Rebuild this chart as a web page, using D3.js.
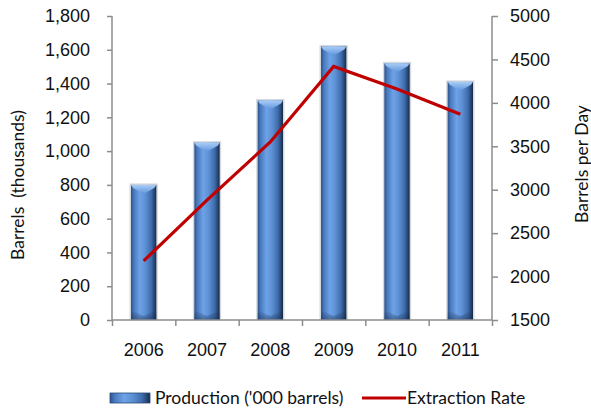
<!DOCTYPE html>
<html>
<head>
<meta charset="utf-8">
<script src="https://cdn.jsdelivr.net/npm/d3@7"></script>
<style>
  html, body { margin: 0; padding: 0; background: #fff; }
  svg { display: block; font-family: Lato, "Open Sans", sans-serif; }
</style>
</head>
<body>
<svg id="chart" width="591" height="410"></svg>
<script>
// ---- data ----
const years = ["2006", "2007", "2008", "2009", "2010", "2011"];
const production = [800, 1050, 1300, 1620, 1520, 1410];
const extractionRate = [2180, 2880, 3550, 4420, 4160, 3870];
const leftTicks = [0, 200, 400, 600, 800, 1000, 1200, 1400, 1600, 1800];
const rightTicks = [1500, 2000, 2500, 3000, 3500, 4000, 4500, 5000];
const seriesNames = ["Production ('000 barrels)", "Extraction Rate"];
const axisTitles = ["Barrels  (thousands)", "Barrels per Day"];

// ---- layout ----
const svg = d3.select("#chart");
const plot = { left: 112, right: 492, top: 16, bottom: 320 };
const axisColor = "#8c8c8c";
const textColor = "#111";

const x = d3.scaleBand().domain(years).range([plot.left, plot.right])
  .paddingInner(0.6).paddingOuter(0.3);
const yL = d3.scaleLinear().domain([0, 1800]).range([plot.bottom, plot.top]);
const yR = d3.scaleLinear().domain([1500, 5000]).range([plot.bottom, plot.top]);

// ---- gradients ----
const defs = svg.append("defs");
const gH = defs.append("linearGradient").attr("id", "barH").attr("x1", 0).attr("x2", 1).attr("y1", 0).attr("y2", 0);
[[0, "#2c538c"], [0.12, "#4a7bc0"], [0.35, "#6ea1e5"], [0.55, "#5e92d7"], [0.8, "#3f6cab"], [0.93, "#24436f"], [1, "#17293f"]]
  .forEach(([o, c]) => gH.append("stop").attr("offset", o).attr("stop-color", c));
const gCap = defs.append("linearGradient").attr("id", "barCap").attr("x1", 0).attr("x2", 0).attr("y1", 0).attr("y2", 1);
[[0, "#a9cdf6"], [1, "#5f95dc"]].forEach(([o, c]) => gCap.append("stop").attr("offset", o).attr("stop-color", c));
const gBot = defs.append("linearGradient").attr("id", "barBot").attr("x1", 0).attr("x2", 0).attr("y1", 0).attr("y2", 1);
[[0, "rgba(20,40,70,0)"], [1, "rgba(20,40,70,0.45)"]].forEach(([o, c]) => gBot.append("stop").attr("offset", o).attr("stop-color", c));

// ---- bars ----
const bw = x.bandwidth();
const bars = svg.append("g").selectAll("g").data(years).join("g");
bars.append("rect")
  .attr("x", d => x(d) - 1.5).attr("y", (d, i) => yL(production[i]) - 1.5)
  .attr("width", bw + 3).attr("height", (d, i) => plot.bottom - yL(production[i]) + 1.5)
  .attr("fill", "#d6d9de");
bars.append("rect")
  .attr("x", d => x(d)).attr("y", (d, i) => yL(production[i]))
  .attr("width", bw).attr("height", (d, i) => plot.bottom - yL(production[i]))
  .attr("fill", "url(#barH)");
// top bevel (chevron)
bars.append("path")
  .attr("d", (d, i) => {
    const x0 = x(d), x1 = x(d) + bw, y0 = yL(production[i]), xm = x(d) + bw / 2;
    return `M${x0},${y0} L${x1},${y0} L${x1 - 2},${y0 + 3} L${xm},${y0 + 9} L${x0 + 2},${y0 + 3} Z`;
  })
  .attr("fill", "url(#barCap)");
// bottom shading
bars.append("path")
  .attr("d", d => {
    const x0 = x(d), x1 = x(d) + bw, xm = x(d) + bw / 2, yb = plot.bottom;
    return `M${x0},${yb - 10} L${xm},${yb - 4} L${x1},${yb - 10} L${x1},${yb} L${x0},${yb} Z`;
  })
  .attr("fill", "url(#barBot)");

// ---- axes ----
const axL = svg.append("g").attr("transform", `translate(${plot.left},0)`)
  .call(d3.axisLeft(yL).tickValues(leftTicks).tickSize(5).tickPadding(17).tickFormat(d3.format(",")));
const axR = svg.append("g").attr("transform", `translate(${plot.right},0)`)
  .call(d3.axisRight(yR).tickValues(rightTicks).tickSize(6).tickPadding(12).tickFormat(d3.format("d")));
// category boundary ticks
const xb = d3.scaleLinear().domain([0, years.length]).range([plot.left, plot.right]);
const axB = svg.append("g").attr("transform", `translate(0,${plot.bottom})`)
  .call(d3.axisBottom(xb).tickValues(d3.range(years.length + 1)).tickSize(6).tickFormat(""));
const axBL = svg.append("g").attr("transform", `translate(0,${plot.bottom})`)
  .call(d3.axisBottom(x).tickSize(0).tickPadding(23));
axBL.select(".domain").remove();

[axL, axR, axB].forEach(a => {
  a.selectAll(".domain").attr("stroke", axisColor).attr("stroke-width", 1.5);
  a.selectAll(".tick line").attr("stroke", axisColor).attr("stroke-width", 1.5);
});
[axL, axR, axBL].forEach(a => {
  a.selectAll(".tick text").attr("fill", textColor).attr("font-size", 18);
});
axL.select(".domain").attr("d", `M0,${plot.bottom}V${plot.top}`);
axR.select(".domain").attr("d", `M0,${plot.bottom}V${plot.top}`);
axB.select(".domain").attr("d", `M${plot.left},0H${plot.right}`);

// ---- line ----
const line = d3.line()
  .x((d, i) => x(years[i]) + bw / 2)
  .y(d => yR(d));
svg.append("path").datum(extractionRate)
  .attr("d", line).attr("fill", "none")
  .attr("stroke", "#c00000").attr("stroke-width", 3.2).attr("stroke-linejoin", "miter");

// ---- axis titles ----
svg.append("text")
  .attr("transform", `translate(24,${(plot.top + plot.bottom) / 2 + 17}) rotate(-90)`)
  .attr("text-anchor", "middle").attr("font-size", 17.5).attr("fill", textColor)
  .style("white-space", "pre").text(axisTitles[0]);
svg.append("text")
  .attr("transform", `translate(588,${(plot.top + plot.bottom) / 2 - 4}) rotate(-90)`)
  .attr("text-anchor", "middle").attr("font-size", 17.5).attr("fill", textColor)
  .text(axisTitles[1]);

// ---- legend ----
const lg = svg.append("g");
lg.append("rect").attr("x", 110).attr("y", 393).attr("width", 40).attr("height", 10)
  .attr("fill", "url(#barH)").attr("stroke", "#2a4a78").attr("stroke-width", 0.8);
lg.append("text").attr("x", 155).attr("y", 404).attr("font-size", 17.5).attr("fill", textColor).text(seriesNames[0]);
lg.append("line").attr("x1", 362).attr("x2", 406).attr("y1", 398).attr("y2", 398)
  .attr("stroke", "#c00000").attr("stroke-width", 3);
lg.append("text").attr("x", 407).attr("y", 404).attr("font-size", 17.5).attr("fill", textColor).text(seriesNames[1]);
</script>
</body>
</html>
